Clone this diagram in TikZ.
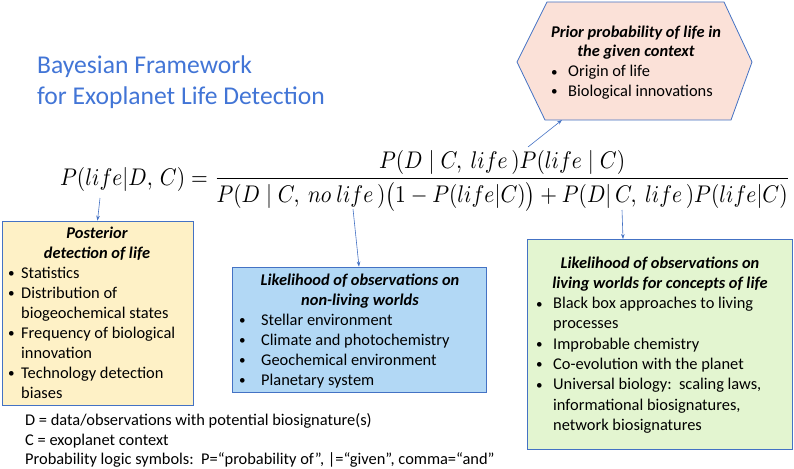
\documentclass[tikz,border=0pt]{standalone}
\usepackage{fontspec}
\setmainfont{Carlito}
\usepackage{graphicx}
\usetikzlibrary{arrows.meta}
\definecolor{bline}{HTML}{4472C4}
\definecolor{ttlc}{HTML}{4275D6}
\definecolor{pinkf}{HTML}{FBE1D8}
\definecolor{yelf}{HTML}{FEF1C6}
\definecolor{bluef}{HTML}{B2D8F5}
\definecolor{grnf}{HTML}{E3F5D0}
\newcommand\bitem[2]{\makebox[#1][l]{\raisebox{0.6pt}{\scalebox{0.8}{•}}}#2}
\begin{document}
\begin{tikzpicture}[x=1pt,y=-1pt,
  txt/.style={font=\fontsize{16.4}{20}\selectfont, inner sep=0pt, anchor=base west},
  ttl/.style={font=\fontsize{16.4}{20}\selectfont\bfseries\itshape, inner sep=0pt, anchor=base},
  big/.style={font=\fontsize{25.6}{30}\selectfont, text=ttlc, inner sep=0pt, anchor=base west},
  box/.style={draw=bline, line width=0.8pt, inner sep=0pt},
  arr/.style={draw=bline, line width=0.6pt, -{Stealth[length=5pt,width=3.6pt]}}]
\useasboundingbox (0,0) rectangle (794,468);

% title
\node[big] (t1) at (37,74) {Bayesian Framework};
\node[big] (t2) at (37,104) {for Exoplanet Life Detection};

% hexagon
\draw[box, fill=pinkf] (547,2) -- (724,2) -- (752,62) -- (731,120) -- (545,120) -- (517,62) -- cycle;
\coordinate (hexb) at (562,120);
\node[ttl] (h1) at (636,38) {Prior probability of life in};
\node[ttl] (h2) at (636,57) {the given context};
\node[txt] (h3) at (551,77) {\bitem{17pt}{Origin of life}};
\node[txt] (h4) at (551,96) {\bitem{17pt}{Biological innovations}};

% equation
\node[inner sep=0pt, anchor=base west] (eq) at (60,185) {\scalebox{1}[1.12]{\resizebox{730pt}{!}{$\displaystyle P(life|D,\,C) = \frac{P(D\mid C,\ life\,)P(life\mid C)}{P(D\mid C,\ no\ life\,)\bigl(1-P(life|C)\bigr)+P(D|\,C,\ life\,)P(life|C)}$}}};

% yellow box
\node[box, fill=yelf, minimum width=191pt, minimum height=184pt] (ybox) at (97.5,313) {};
\node[ttl] (y1) at (97,238) {Posterior};
\node[ttl] (y2) at (97,258) {detection of life};
\node[txt] (y3) at (8,278) {\bitem{13pt}{Statistics}};
\node[txt] (y4) at (8,298) {\bitem{13pt}{Distribution of}};
\node[txt] (y5) at (21,318) {biogeochemical states};
\node[txt] (y6) at (8,338) {\bitem{13pt}{Frequency of biological}};
\node[txt] (y7) at (21,358) {innovation};
\node[txt] (y8) at (8,378) {\bitem{13pt}{Technology detection}};
\node[txt] (y9) at (21,398) {biases};

% blue box
\node[box, fill=bluef, minimum width=254pt, minimum height=125pt] (bbox) at (359,329.5) {};
\node[ttl] (b1) at (360,285) {Likelihood of observations on};
\node[ttl] (b2) at (360,305) {non-living worlds};
\node[txt] (b3) at (239,325) {\bitem{22pt}{Stellar environment}};
\node[txt] (b4) at (239,345) {\bitem{22pt}{Climate and photochemistry}};
\node[txt] (b5) at (239,365) {\bitem{22pt}{Geochemical environment}};
\node[txt] (b6) at (239,385) {\bitem{22pt}{Planetary system}};

% green box
\node[box, fill=grnf, minimum width=265pt, minimum height=210pt] (gbox) at (659.5,344) {};
\node[ttl] (g1) at (660,268) {Likelihood of observations on};
\node[ttl] (g2) at (660,288.3) {living worlds for concepts of life};
\node[txt] (g3) at (536,308.6) {\bitem{17pt}{Black box approaches to living}};
\node[txt] (g4) at (553,328.9) {processes};
\node[txt] (g5) at (536,349.2) {\bitem{17pt}{Improbable chemistry}};
\node[txt] (g6) at (536,369.5) {\bitem{17pt}{Co-evolution with the planet}};
\node[txt] (g7) at (536,389.8) {\bitem{17pt}{Universal biology:\ \ scaling laws,}};
\node[txt] (g8) at (553,410.1) {informational biosignatures,};
\node[txt] (g9) at (553,430.4) {network biosignatures};

% legend
\node[txt] (l1) at (25,425) {D = data/observations with potential biosignature(s)};
\node[txt] (l2) at (25,445) {C = exoplanet context};
\node[txt] (l3) at (25,464) {Probability logic symbols:\ \ P=“probability of”, |=“given”, comma=“and”};

% connectors
\coordinate (s1) at (100,198);
\coordinate (s2) at (353,209);
\coordinate (s3) at (528,147);
\coordinate (s4) at (622,210);
\coordinate (e4) at (623,239);
\draw[arr] (s1) -- (ybox.north);
\draw[arr] (s2) -- (bbox.north);
\draw[arr] (s3) -- (hexb);
\draw[arr] (s4) -- (e4);
\end{tikzpicture}
\end{document}
